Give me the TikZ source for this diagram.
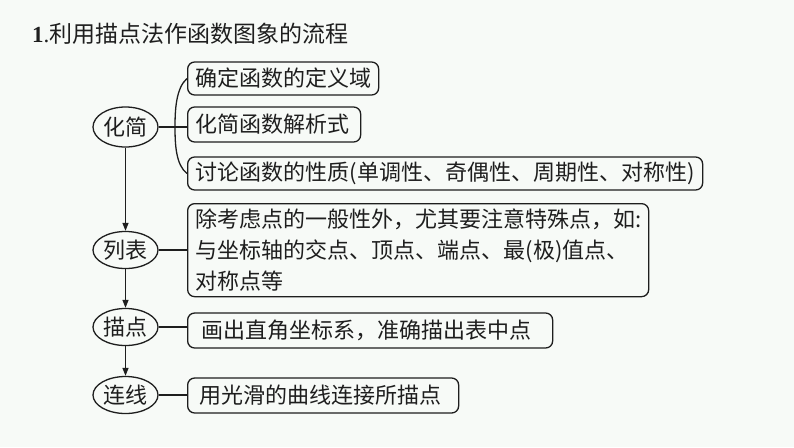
\documentclass[tikz,border=0pt]{standalone}
\usepackage{fontspec}
\setmainfont{Liberation Serif}
\newfontfamily\cjk{Noto Sans CJK SC}
\usetikzlibrary{shapes.geometric,arrows.meta}
\definecolor{bgc}{RGB}{247,250,247}
\definecolor{ink}{RGB}{30,30,30}
\tikzset{
  stage/.style={ellipse,draw=ink,line width=1.3pt,minimum width=65pt,minimum height=37pt,inner sep=0pt,font=\cjk\fontsize{22}{26}\selectfont,text=ink},
  infobox/.style={rectangle,rounded corners=7pt,draw=ink,line width=1.3pt,inner xsep=8pt,inner ysep=0pt,align=left,font=\cjk\fontsize{22}{31}\selectfont,text=ink},
  link/.style={draw=ink,line width=1.3pt},
  flow/.style={draw=ink,line width=1.3pt,-{Triangle[length=8pt,width=6pt]}}
}
\begin{document}
\begin{tikzpicture}[x=1pt,y=-1pt]
\fill[bgc] (0,0) rectangle (794,447);
\useasboundingbox (0,0) rectangle (794,447);
% title
\node[anchor=west,inner sep=0pt,text=ink] (title) at (32,34) {\fontsize{23}{26}\selectfont\textbf{1}.\cjk\fontsize{23}{26}\selectfont 利用描点法作函数图象的流程};
% stages
\node[stage,minimum height=40pt] (s1) at (125.5,127) {化简};
\node[stage] (s2) at (125.5,250) {列表};
\node[stage] (s3) at (125.5,327) {描点};
\node[stage] (s4) at (125.5,395) {连线};
% boxes
\node[infobox,anchor=west,minimum width=191pt,minimum height=33pt,text width=175pt] (b1) at (187,78.5) {确定函数的定义域};
\node[infobox,anchor=west,minimum width=173pt,minimum height=35pt,text width=157pt] (b2) at (187,124.5) {化简函数解析式};
\node[infobox,anchor=west,minimum width=515pt,minimum height=33pt,text width=499pt] (b3) at (187,173.5) {讨论函数的性质(单调性、奇偶性、周期性、对称性)};
\node[infobox,anchor=north west,minimum width=461pt,minimum height=93pt,text width=445pt] (b4) at (187,203) {除考虑点的一般性外，尤其要注意特殊点，如:\\与坐标轴的交点、顶点、端点、最(极)值点、\\对称点等};
\node[infobox,anchor=west,minimum width=365pt,minimum height=35pt,text width=337pt,inner xsep=13pt] (b5) at (187,330.5) {画出直角坐标系，准确描出表中点};
\node[infobox,anchor=west,minimum width=271pt,minimum height=35pt,text width=247pt,inner xsep=12pt] (b6) at (187,395.5) {用光滑的曲线连接所描点};
% connectors
\coordinate (br) at (175,127);
\draw[link] (s1.east) -- (b2.west |- s1.east);
\draw[link] (b1.west) .. controls (176,88) and (175,110) .. (br) .. controls (175,145) and (176,165) .. (b3.west);
\draw[link] (s2.east) -- (b4.west |- s2.east);
\draw[link] (s3.east) -- (b5.west |- s3.east);
\draw[link] (s4.east) -- (b6.west |- s4.east);
\draw[flow] (s1.south) -- (s2.north);
\draw[flow] (s2.south) -- (s3.north);
\draw[flow] (s3.south) -- (s4.north);
\end{tikzpicture}
\end{document}
